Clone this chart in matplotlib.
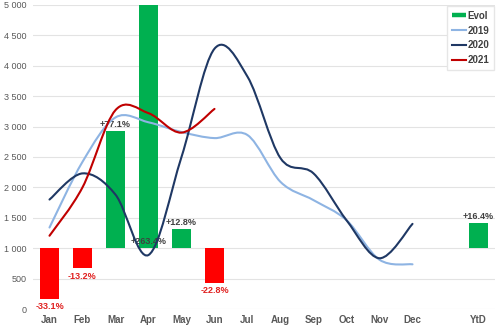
import numpy as np
import matplotlib
matplotlib.use("Agg")
import matplotlib.pyplot as plt
from matplotlib.path import Path
from matplotlib.patches import PathPatch
from matplotlib.lines import Line2D
from matplotlib.ticker import FuncFormatter, MultipleLocator

# ---- data -------------------------------------------------------------
categories = ["Jan", "Feb", "Mar", "Apr", "May", "Jun", "Jul", "Aug",
              "Sep", "Oct", "Nov", "Dec", "", "YtD"]
evol_pct = [-33.1, -13.2, 77.1, 263.4, 12.8, -22.8,
            None, None, None, None, None, None, None, 16.4]
sales_2019 = [1340, 2420, 3150, 3070, 2910, 2810, 2860, 2090, 1790, 1460, 810, 735]
sales_2020 = [1800, 2230, 1880, 888, 2500, 4280, 3820, 2480, 2230, 1460, 835, 1400]
sales_2021 = [1205, 2000, 3270, 3220, 2900, 3290]

# ---- style ------------------------------------------------------------
plt.rcParams["font.family"] = ["Liberation Sans", "DejaVu Sans"]
GREEN = "#00B050"
RED = "#FF0000"
C2019 = "#8EB4E3"
C2020 = "#1F3864"
C2021 = "#C00000"
GRID = "#E3E3E3"
TXT = "#595959"

fig = plt.figure(figsize=(5.0, 3.27), dpi=100)
rect = [0.066, 0.055, 0.924, 0.930]

# bottom layer: gridlines and the evolution bars (percent scale)
ax2 = fig.add_axes(rect)
ax2.set_xlim(-0.5, len(categories) - 0.5)
ax2.set_ylim(-40, 160)
ax2.yaxis.set_major_locator(MultipleLocator(20))
ax2.grid(axis="y", color=GRID, lw=0.8)
ax2.set_axisbelow(True)
ax2.tick_params(left=False, bottom=False, labelleft=False, labelbottom=False)
for s in ax2.spines.values():
    s.set_visible(False)

top_pct = ax2.get_ylim()[1]
for i, v in enumerate(evol_pct):
    if v is None:
        continue
    ax2.bar(i, v, width=0.58, color=GREEN if v >= 0 else RED, zorder=2)
    label = f"{v:+.1f}%"
    if v > top_pct:
        ax2.annotate(label, (i, 0), xytext=(0, 1.5), textcoords="offset points",
                     ha="center", va="bottom", fontsize=6.5, fontweight="bold",
                     color="#404040", zorder=4)
    elif v >= 0:
        ax2.annotate(label, (i, v), xytext=(0, 1.5), textcoords="offset points",
                     ha="center", va="bottom", fontsize=6.5, fontweight="bold",
                     color="#404040", zorder=4)
    else:
        ax2.annotate(label, (i, v), xytext=(0, -2.5), textcoords="offset points",
                     ha="center", va="top", fontsize=6.5, fontweight="bold",
                     color="#E0201F", zorder=4)

# top layer: smoothed yearly lines with the value axis
ax = fig.add_axes(rect)
ax.patch.set_visible(False)
ax.set_xlim(-0.5, len(categories) - 0.5)
ax.set_ylim(0, 5000)
ax.yaxis.set_major_locator(MultipleLocator(500))
ax.yaxis.set_major_formatter(FuncFormatter(lambda v, p: f"{int(v):,}".replace(",", " ")))
ax.set_xticks(range(len(categories)))
ax.set_xticklabels(categories, fontweight="bold", fontsize=7, color=TXT)
ax.tick_params(axis="x", length=0, pad=4.5)
ax.tick_params(axis="y", length=0, pad=4.5, labelsize=6.5, labelcolor=TXT)
for s in ax.spines.values():
    s.set_visible(False)


def smooth_path(values):
    pts = np.column_stack([np.arange(len(values), dtype=float),
                           np.asarray(values, dtype=float)])
    n = len(pts)
    verts = [pts[0]]
    codes = [Path.MOVETO]
    for i in range(n - 1):
        p0 = pts[max(i - 1, 0)]
        p1 = pts[i]
        p2 = pts[i + 1]
        p3 = pts[min(i + 2, n - 1)]
        c1 = p1 + (p2 - p0) / 6.0
        c2 = p2 - (p3 - p1) / 6.0
        verts += [c1, c2, p2]
        codes += [Path.CURVE4] * 3
    return Path(verts, codes)


for vals, col in [(sales_2019, C2019), (sales_2020, C2020), (sales_2021, C2021)]:
    ax.add_patch(PathPatch(smooth_path(vals), fill=False, edgecolor=col,
                           lw=1.5, capstyle="round", joinstyle="round", zorder=3))

handles = [
    Line2D([0], [0], color=GREEN, lw=3.2, solid_capstyle="butt"),
    Line2D([0], [0], color=C2019, lw=1.5),
    Line2D([0], [0], color=C2020, lw=1.5),
    Line2D([0], [0], color=C2021, lw=1.5),
]
leg = ax.legend(handles, ["Evol", "2019", "2020", "2021"], loc="upper right",
                bbox_to_anchor=(1.0, 1.0), fontsize=7, frameon=True,
                fancybox=False, edgecolor="#E6E6E6", framealpha=1,
                handlelength=1.5, handletextpad=0.1, labelspacing=0.5,
                borderpad=0.5, borderaxespad=0.1)
for t in leg.get_texts():
    t.set_fontweight("bold")
    t.set_color("#404040")

fig.savefig("out.png", dpi=100)
